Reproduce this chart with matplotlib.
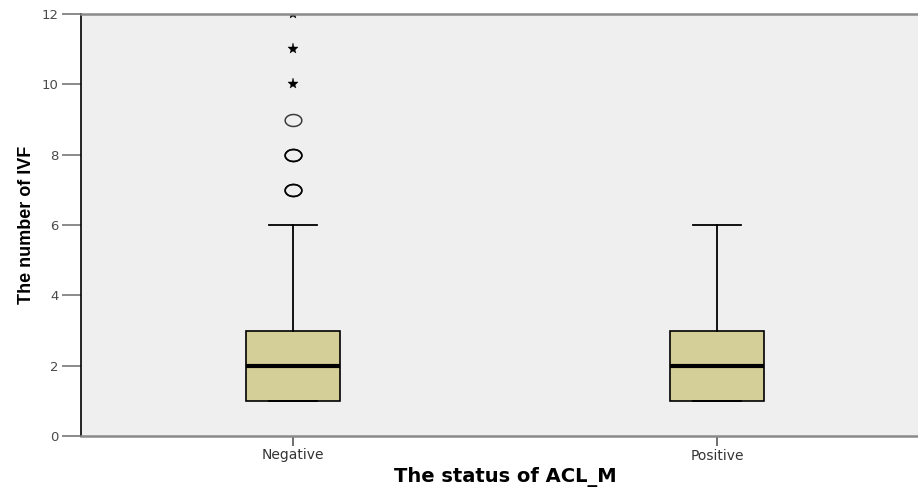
import numpy as np
import matplotlib.pyplot as plt
from matplotlib.path import Path

# data
groups = ['Negative', 'Positive']
q1 = [1, 1]
median = [2, 2]
q3 = [3, 3]
whisker_low = [1, 1]
whisker_high = [6, 6]
outliers = [[7, 7, 7, 8, 8, 8, 9], []]   # circles (repeated values overlap)
extremes = [[10, 11, 12], []]            # stars
yticks = [0, 2, 4, 6, 8, 10, 12]

fig = plt.figure(figsize=(9.18, 4.91), dpi=100)
ax = fig.add_axes([81/918, 1-436/491, 848/918, 422/491])
ax.set_facecolor('#efefef')

stats = []
for i in range(len(groups)):
    stats.append(dict(label=groups[i], q1=q1[i], med=median[i], q3=q3[i],
                      whislo=whisker_low[i], whishi=whisker_high[i], fliers=[]))

pos = np.arange(1, len(groups)+1)
ax.bxp(stats, positions=pos, widths=0.222, patch_artist=True, showfliers=False,
       boxprops=dict(facecolor='#d4cf98', edgecolor='black', linewidth=1.2),
       medianprops=dict(color='black', linewidth=3),
       whiskerprops=dict(color='black', linewidth=1.3),
       capprops=dict(color='black', linewidth=1.3),
       capwidths=0.111)

# spss draws slightly flattened circles
t = np.linspace(0, 2*np.pi, 40)
ellipse = Path(np.column_stack([np.cos(t), 0.72*np.sin(t)]))

for i in range(len(groups)):
    if outliers[i]:
        ax.plot([pos[i]]*len(outliers[i]), outliers[i], marker=ellipse, mfc='none',
                mec='black', ms=12, mew=1.1, linestyle='none', alpha=0.75)
    if extremes[i]:
        ax.plot([pos[i]]*len(extremes[i]), extremes[i], '*', color='black',
                ms=8, mew=0.3, linestyle='none')

ax.set_xlim(0.5, 2.5)
ax.set_ylim(0, 12)
ax.set_yticks(yticks)
ax.set_xticks(pos)
ax.set_xticklabels(groups)

for s in ['top', 'bottom']:
    ax.spines[s].set_color('#8a8a8a')
    ax.spines[s].set_linewidth(1.8)
ax.spines['left'].set_color('black')
ax.spines['left'].set_linewidth(1.2)
ax.spines['right'].set_visible(False)

ax.tick_params(axis='y', length=14, width=1.2, color='#777777', labelcolor='#4a4a4a',
               labelsize=9.5, pad=2)
ax.tick_params(axis='x', length=7, width=1.2, color='#555555', labelcolor='#333333',
               labelsize=10, pad=2)
for lab in ax.get_xticklabels() + ax.get_yticklabels():
    lab.set_family('DejaVu Sans')

ax.set_ylabel('The number of IVF', fontsize=13, fontweight='bold',
              family='Liberation Sans', labelpad=5)
ax.set_xlabel('The status of ACL_M', fontsize=14, fontweight='bold',
              family='DejaVu Sans', labelpad=3)

fig.savefig('out.png', dpi=100)
